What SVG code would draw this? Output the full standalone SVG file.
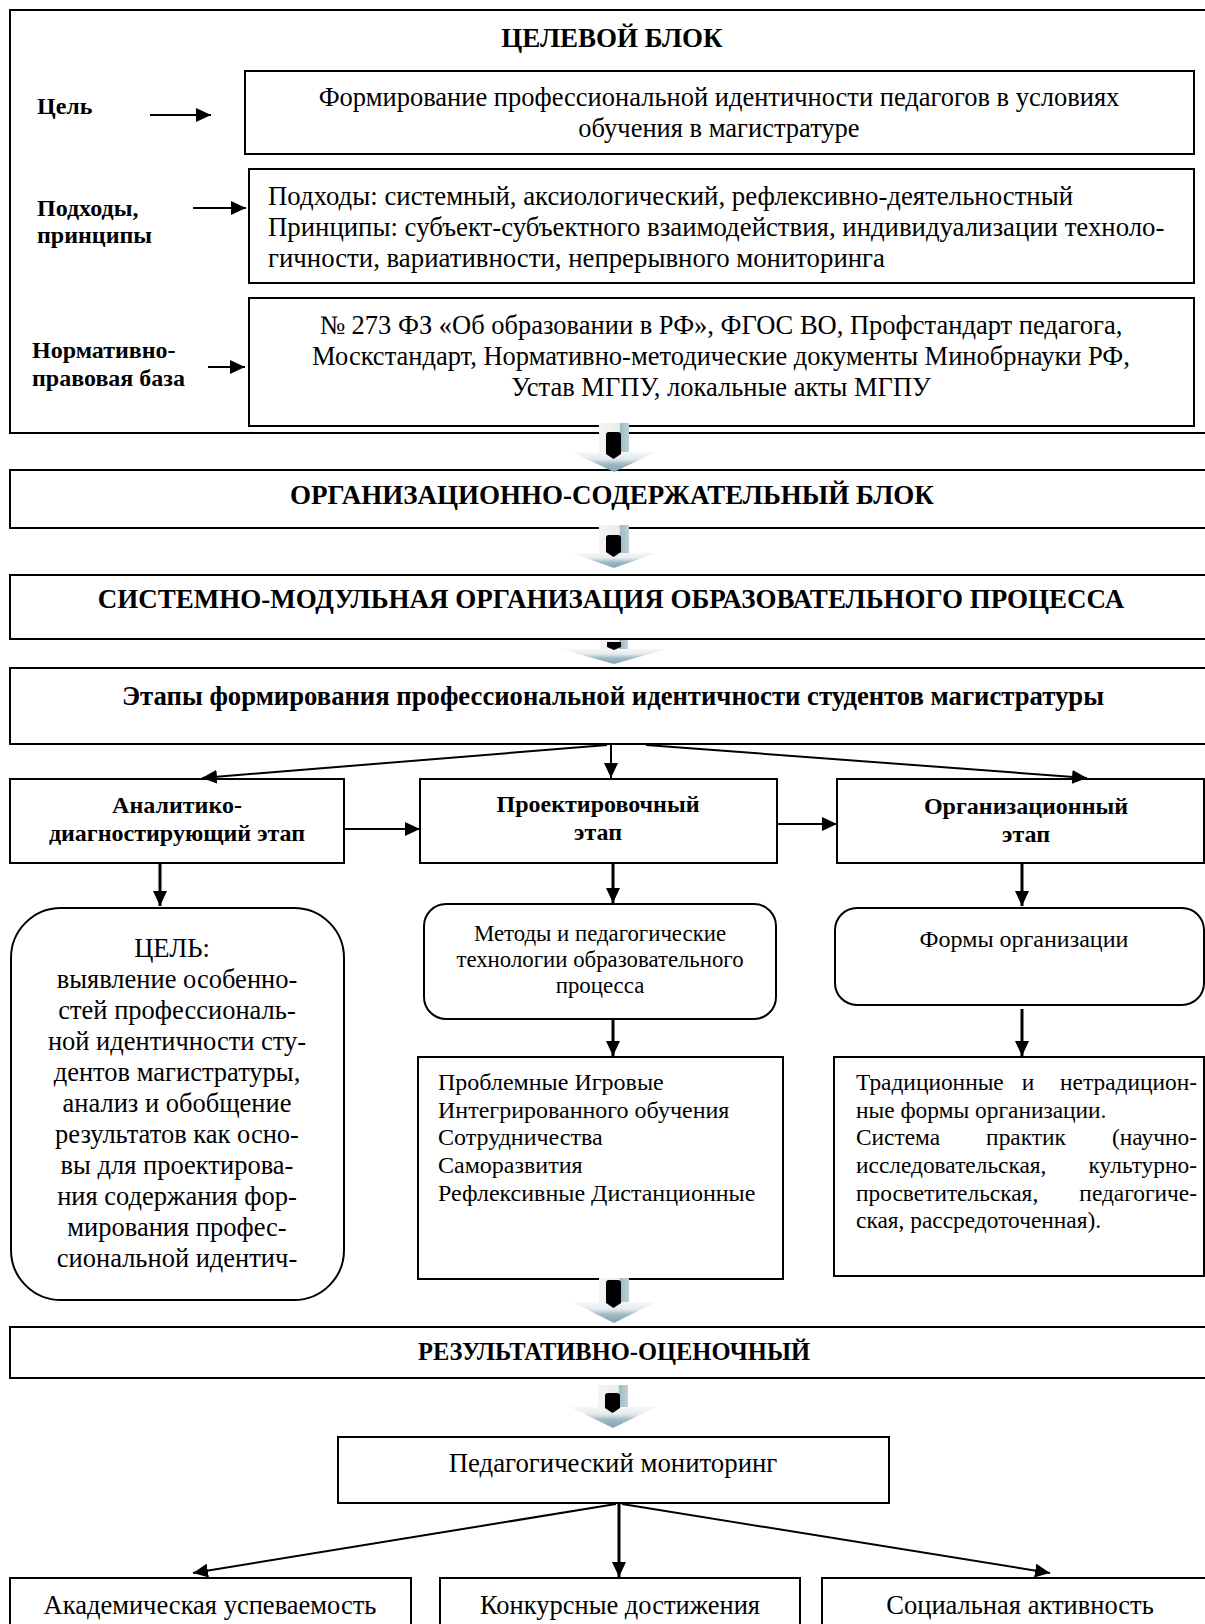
<svg xmlns="http://www.w3.org/2000/svg" width="1205" height="1624" viewBox="0 0 1205 1624">
<defs>
<style>
.box{fill:#fff;stroke:#000;stroke-width:2}
.t{font-family:"Liberation Serif","Times New Roman",serif;fill:#000}
.c{text-anchor:middle}
.e{text-anchor:end}
.f265{font-size:26.5px}
.f27b{font-size:27px;font-weight:bold}
.f24b{font-size:24px;font-weight:bold}
.f24{font-size:24px}
.f234{font-size:23.4px}
.f228{font-size:22.8px}
.ln{stroke:#000;stroke-width:2;fill:none;marker-end:url(#ah)}
.ln3{stroke-width:3}
.bar{fill:#000}
</style>
<marker id="ah" markerUnits="userSpaceOnUse" markerWidth="16" markerHeight="14" refX="15" refY="7" orient="auto"><path d="M0,0 L15,7 L0,14 z" fill="#000"/></marker>
<linearGradient id="hg" x1="0" y1="0" x2="0" y2="1">
<stop offset="0" stop-color="#f7f8f8"/><stop offset="0.35" stop-color="#e3eaed"/><stop offset="0.6" stop-color="#9fbac4"/><stop offset="1" stop-color="#7fa3b1"/>
</linearGradient>
<linearGradient id="sg" x1="0" y1="0" x2="1" y2="0">
<stop offset="0" stop-color="#f4f4f4"/><stop offset="0.68" stop-color="#ececec"/><stop offset="0.7" stop-color="#9fbac4"/><stop offset="1" stop-color="#bfd0d7"/>
</linearGradient>
</defs>
<rect width="1205" height="1624" fill="#fff"/>

<g id="target-block">
<rect class="box" x="10" y="10" width="1200" height="423"/>
<text class="t f27b c" x="612" y="47">ЦЕЛЕВОЙ БЛОК</text>
</g>
<g id="label-goal"><text class="t f24b" x="37" y="114">Цель</text></g>
<g id="label-approaches"><text class="t f24b" x="37" y="216">Подходы,</text><text class="t f24b" x="37" y="243">принципы</text></g>
<g id="label-legal"><text class="t f24b" x="32" y="358">Нормативно-</text><text class="t f24b" x="32" y="386">правовая база</text></g>
<g id="goal">
<rect class="box" x="245" y="71" width="949" height="83"/>
<text class="t f265 c" x="719" y="106">Формирование профессиональной идентичности педагогов в условиях</text>
<text class="t f265 c" x="719" y="137">обучения в магистратуре</text>
</g>
<g id="approaches">
<rect class="box" x="249" y="169" width="945" height="114"/>
<text class="t f265" x="268" y="205" style="font-size:26.8px">Подходы: системный, аксиологический, рефлексивно-деятельностный</text>
<text class="t f265" x="268" y="236" style="font-size:26.8px">Принципы: субъект-субъектного взаимодействия, индивидуализации техноло-</text>
<text class="t f265" x="268" y="267" style="font-size:26.8px">гичности, вариативности, непрерывного мониторинга</text>
</g>
<g id="legal">
<rect class="box" x="249" y="298" width="945" height="128"/>
<text class="t f265 c" x="721" y="334">№ 273 ФЗ «Об образовании в РФ», ФГОС ВО, Профстандарт педагога,</text>
<text class="t f265 c" x="721" y="365">Москстандарт, Нормативно-методические документы Минобрнауки РФ,</text>
<text class="t f265 c" x="721" y="396">Устав МГПУ, локальные акты МГПУ</text>
</g>
<g id="org-content">
<rect class="box" x="10" y="470" width="1200" height="58"/>
<text class="t f27b c" x="612" y="504">ОРГАНИЗАЦИОННО-СОДЕРЖАТЕЛЬНЫЙ БЛОК</text>
</g>
<g id="system-modular">
<rect class="box" x="10" y="575" width="1200" height="64"/>
<text class="t f27b c" x="611" y="608">СИСТЕМНО-МОДУЛЬНАЯ ОРГАНИЗАЦИЯ ОБРАЗОВАТЕЛЬНОГО ПРОЦЕССА</text>
</g>
<g id="stages">
<rect class="box" x="10" y="668" width="1200" height="76"/>
<text class="t f27b c" x="613" y="705" style="font-size:26.7px">Этапы формирования профессиональной идентичности студентов магистратуры</text>
</g>
<g id="stage-analytic">
<rect class="box" x="10" y="779" width="334" height="84"/>
<text class="t f24b c" x="177" y="813">Аналитико-</text>
<text class="t f24b c" x="177" y="841">диагностирующий этап</text>
</g>
<g id="stage-design">
<rect class="box" x="420" y="779" width="357" height="84"/>
<text class="t f24b c" x="598" y="812">Проектировочный</text>
<text class="t f24b c" x="598" y="840">этап</text>
</g>
<g id="stage-org">
<rect class="box" x="837" y="779" width="367" height="84"/>
<text class="t f24b c" x="1026" y="814">Организационный</text>
<text class="t f24b c" x="1026" y="842">этап</text>
</g>
<g id="analytic-goal">
<rect class="box" x="11" y="908" width="333" height="392" rx="50" ry="50"/>
<text class="t f265 c" x="172" y="957">ЦЕЛЬ:</text>
<text class="t f265 c" x="177" y="988">выявление особенно-</text>
<text class="t f265 c" x="177" y="1019">стей профессиональ-</text>
<text class="t f265 c" x="177" y="1050">ной идентичности сту-</text>
<text class="t f265 c" x="177" y="1081">дентов магистратуры,</text>
<text class="t f265 c" x="177" y="1112">анализ и обобщение</text>
<text class="t f265 c" x="177" y="1143">результатов как осно-</text>
<text class="t f265 c" x="177" y="1174">вы для проектирова-</text>
<text class="t f265 c" x="177" y="1205">ния содержания фор-</text>
<text class="t f265 c" x="177" y="1236">мирования профес-</text>
<text class="t f265 c" x="177" y="1267">сиональной идентич-</text>
</g>
<g id="methods">
<rect class="box" x="424" y="904" width="352" height="115" rx="22" ry="22"/>
<text class="t f228 c" x="600" y="941">Методы и педагогические</text>
<text class="t f228 c" x="600" y="967">технологии образовательного</text>
<text class="t f228 c" x="600" y="993">процесса</text>
</g>
<g id="forms">
<rect class="box" x="835" y="908" width="369" height="97" rx="22" ry="22"/>
<text class="t f24 c" x="1024" y="947">Формы организации</text>
</g>
<g id="methods-list">
<rect class="box" x="418" y="1057" width="365" height="222"/>
<text class="t f24" x="438" y="1090">Проблемные Игровые</text>
<text class="t f24" x="438" y="1118">Интегрированного обучения</text>
<text class="t f24" x="438" y="1145">Сотрудничества</text>
<text class="t f24" x="438" y="1173">Саморазвития</text>
<text class="t f24" x="438" y="1201">Рефлексивные Дистанционные</text>
</g>
<g id="forms-list">
<rect class="box" x="834" y="1057" width="370" height="219"/>
<text class="t f234" x="856" y="1090">Традиционные</text><text class="t f234 c" x="1028" y="1090">и</text><text class="t f234 e" x="1197" y="1090">нетрадицион-</text>
<text class="t f234" x="856" y="1118">ные формы организации.</text>
<text class="t f234" x="856" y="1145">Система</text><text class="t f234 c" x="1026" y="1145">практик</text><text class="t f234 e" x="1197" y="1145">(научно-</text>
<text class="t f234" x="856" y="1173">исследовательская,</text><text class="t f234 e" x="1197" y="1173">культурно-</text>
<text class="t f234" x="856" y="1201">просветительская,</text><text class="t f234 e" x="1197" y="1201">педагогиче-</text>
<text class="t f234" x="856" y="1228">ская, рассредоточенная).</text>
</g>
<g id="result">
<rect class="box" x="10" y="1327" width="1200" height="51"/>
<text class="t f27b c" x="614" y="1360" style="font-size:24.5px">РЕЗУЛЬТАТИВНО-ОЦЕНОЧНЫЙ</text>
</g>
<g id="monitoring">
<rect class="box" x="338" y="1437" width="551" height="66"/>
<text class="t f265 c" x="613" y="1472" style="font-size:26.8px">Педагогический мониторинг</text>
</g>
<g id="academic">
<rect class="box" x="10" y="1578" width="401" height="60"/>
<text class="t f265 c" x="210" y="1614">Академическая успеваемость</text>
</g>
<g id="contests">
<rect class="box" x="440" y="1578" width="360" height="60"/>
<text class="t f265 c" x="620" y="1614">Конкурсные достижения</text>
</g>
<g id="social">
<rect class="box" x="822" y="1578" width="388" height="60"/>
<text class="t f265 c" x="1020" y="1614">Социальная активность</text>
</g>

<g id="connectors">
<line class="ln" x1="150" y1="115" x2="211" y2="115"/>
<line class="ln" x1="193" y1="208" x2="246" y2="208"/>
<line class="ln" x1="208" y1="367" x2="245" y2="367"/>
<line class="ln" x1="607" y1="745" x2="202" y2="778"/>
<line class="ln" x1="611" y1="745" x2="611" y2="778"/>
<line class="ln" x1="646" y1="745" x2="1087" y2="778"/>
<line class="ln" x1="344" y1="829" x2="420" y2="829"/>
<line class="ln" x1="777" y1="824" x2="837" y2="824"/>
<line class="ln ln3" x1="160" y1="864" x2="160" y2="906"/>
<line class="ln ln3" x1="613" y1="864" x2="613" y2="903"/>
<line class="ln ln3" x1="1022" y1="864" x2="1022" y2="906"/>
<line class="ln ln3" x1="613" y1="1020" x2="613" y2="1056"/>
<line class="ln ln3" x1="1022" y1="1009" x2="1022" y2="1056"/>
<line class="ln" x1="616" y1="1504" x2="193" y2="1573"/>
<line class="ln ln3" x1="619" y1="1504" x2="619" y2="1577"/>
<line class="ln" x1="622" y1="1504" x2="1050" y2="1573"/>
<g id="block-arrow-1">
<rect x="599" y="423" width="30" height="31" fill="url(#sg)"/>
<polygon points="572,452 656,452 614,472" fill="url(#hg)"/>
<path class="bar" d="M606,435 q0,-3 3,-3 h9 q3,0 3,3 v19 l-7.5,5 l-7.5,-5 z"/>
</g>
<g id="block-arrow-2">
<rect x="599" y="525" width="30" height="30" fill="url(#sg)"/>
<polygon points="572,553 656,553 614,568" fill="url(#hg)"/>
<path class="bar" d="M606,538 q0,-3 3,-3 h9 q3,0 3,3 v14 l-7.5,5 l-7.5,-5 z"/>
</g>
<g id="block-arrow-3">
<rect x="600" y="640" width="28" height="11" fill="url(#sg)"/>
<polygon points="561,649 667,649 614,664" fill="url(#hg)"/>
<path class="bar" d="M607,642 h14 v5 l-7,3 l-7,-3 z"/>
</g>
<g id="block-arrow-4">
<rect x="599" y="1278" width="30" height="26" fill="url(#sg)"/>
<polygon points="572,1302 656,1302 614,1323" fill="url(#hg)"/>
<path class="bar" d="M606,1283 q0,-3 3,-3 h9 q3,0 3,3 v20 l-7.5,5 l-7.5,-5 z"/>
</g>
<g id="block-arrow-5">
<rect x="598" y="1385" width="30" height="24" fill="url(#sg)"/>
<polygon points="570,1407 656,1407 613,1428" fill="url(#hg)"/>
<path class="bar" d="M605,1396 q0,-3 3,-3 h9 q3,0 3,3 v12 l-7.5,5 l-7.5,-5 z"/>
</g>
</g>
</svg>
